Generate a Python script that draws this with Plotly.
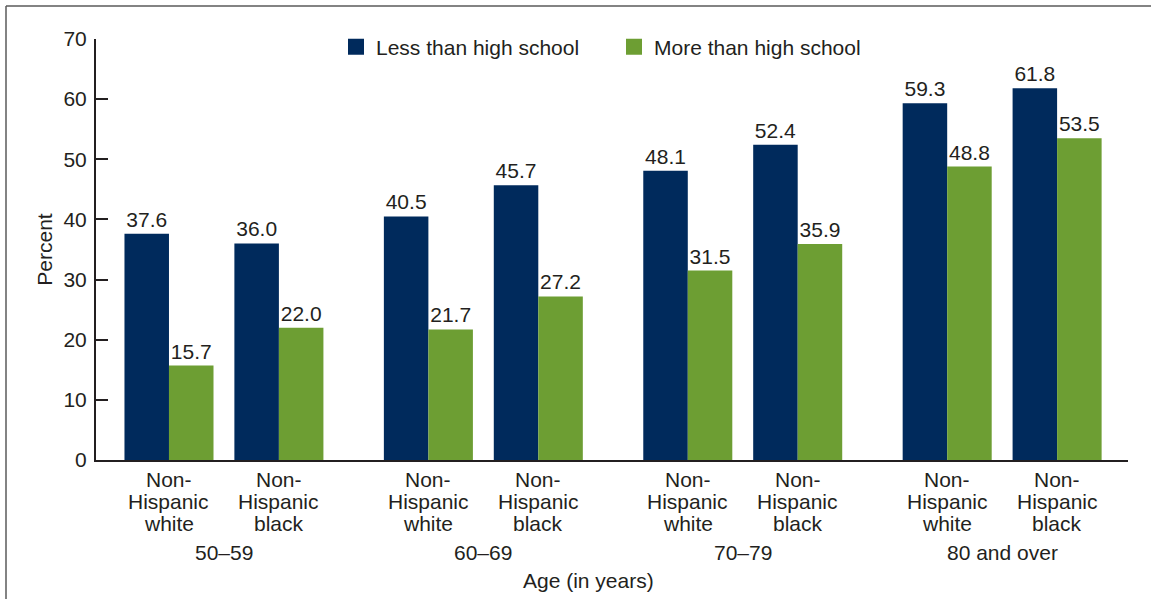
import plotly.graph_objects as go

age_groups = ["50–59", "60–69", "70–79", "80 and over"]
race_labels = [["Non-", "Hispanic", "white"], ["Non-", "Hispanic", "black"]]
less_than_hs = [37.6, 36.0, 40.5, 45.7, 48.1, 52.4, 59.3, 61.8]
more_than_hs = [15.7, 22.0, 21.7, 27.2, 31.5, 35.9, 48.8, 53.5]
series_names = ["Less than high school", "More than high school"]

NAVY = "#002a5c"
GREEN = "#6d9e33"
TXT = "#231f20"
FONT = "Liberation Sans, Arial, sans-serif"
FS = 21

# pair positions: groups separated by a wider gap
GROUP_PERIOD = 2.36
xpos = []
xlabels = []
for g in range(len(age_groups)):
    for s in range(len(race_labels)):
        xpos.append(g * GROUP_PERIOD + s)
        xlabels.append(race_labels[s])

fig = go.Figure()
for name, vals, col in [(series_names[0], less_than_hs, NAVY), (series_names[1], more_than_hs, GREEN)]:
    fig.add_trace(go.Bar(x=xpos, y=vals, name=name, showlegend=False, legendgroup=name,
                         marker=dict(color=col, line=dict(width=0)),
                         texttemplate="%{y:.1f}", textposition="outside",
                         textfont=dict(size=FS, color=TXT, family=FONT), cliponaxis=False))
# legend entries with larger square swatches
for name, col in [(series_names[0], NAVY), (series_names[1], GREEN)]:
    fig.add_trace(go.Scatter(x=[None], y=[None], mode="markers", name=name, legendgroup=name,
                             marker=dict(symbol="square", size=16, color=col, line=dict(width=0))))

W, H = 1151, 599
L, R, T, B = 96, 23, 39, 139
pw, ph = W - L - R, H - T - B

annotations = []
line_shifts = [-19, -41, -63]
for x, lines in zip(xpos, xlabels):
    for line, sh in zip(lines, line_shifts):
        annotations.append(dict(x=x, y=0, xref="x", yref="paper", text=line, showarrow=False,
                                yanchor="middle", yshift=sh,
                                font=dict(size=FS, color=TXT, family=FONT)))
for g, name in enumerate(age_groups):
    cx = g * GROUP_PERIOD + 0.5
    annotations.append(dict(x=cx, y=0, xref="x", yref="paper", text=name, showarrow=False,
                            yanchor="middle", yshift=-92.5, font=dict(size=FS, color=TXT, family=FONT)))
annotations.append(dict(x=(588 - L) / pw, y=0, xref="paper", yref="paper", text="Age (in years)",
                        showarrow=False, yanchor="middle", yshift=-120,
                        font=dict(size=FS, color=TXT, family=FONT)))

shapes = [
    dict(type="line", xref="paper", yref="paper", x0=(6 - L) / pw, x1=(W - L) / pw,
         y0=1 + (T - 6) / ph, y1=1 + (T - 6) / ph, line=dict(color="#5a5a5a", width=1.5)),
    dict(type="line", xref="paper", yref="paper", x0=(6 - L) / pw, x1=(6 - L) / pw,
         y0=1 + (T - 6) / ph, y1=-(B) / ph, line=dict(color="#5a5a5a", width=1.5)),
]

fig.update_layout(
    width=W, height=H,
    margin=dict(l=L, r=R, t=T, b=B),
    paper_bgcolor="white", plot_bgcolor="white",
    font=dict(family=FONT, size=FS, color=TXT),
    barmode="group", bargap=0.19, bargroupgap=0,
    showlegend=True,
    legend=dict(orientation="h", x=(336 - L) / pw, xanchor="left", y=1 - (47 - T) / ph,
                yanchor="middle", font=dict(size=FS, color=TXT, family=FONT),
                bgcolor="rgba(0,0,0,0)", entrywidth=233, entrywidthmode="pixels",
                itemsizing="trace"),
    xaxis=dict(range=[-0.664, 3 * GROUP_PERIOD + 1 + 0.645], tickvals=xpos, showticklabels=False,
               showline=True, linecolor=TXT, linewidth=2, ticks="", showgrid=False,
               zeroline=False),
    yaxis=dict(range=[0, 70], dtick=10, tick0=0, showline=True, linecolor=TXT, linewidth=2,
               ticks="inside", ticklen=12, tickwidth=2, tickcolor=TXT, showgrid=False,
               zeroline=False, tickfont=dict(size=FS, color=TXT, family=FONT), ticklabelstandoff=3,
               title=dict(text="Percent", font=dict(size=FS, color=TXT, family=FONT), standoff=5)),
    annotations=annotations, shapes=shapes,
)

fig.write_html("out.html")
